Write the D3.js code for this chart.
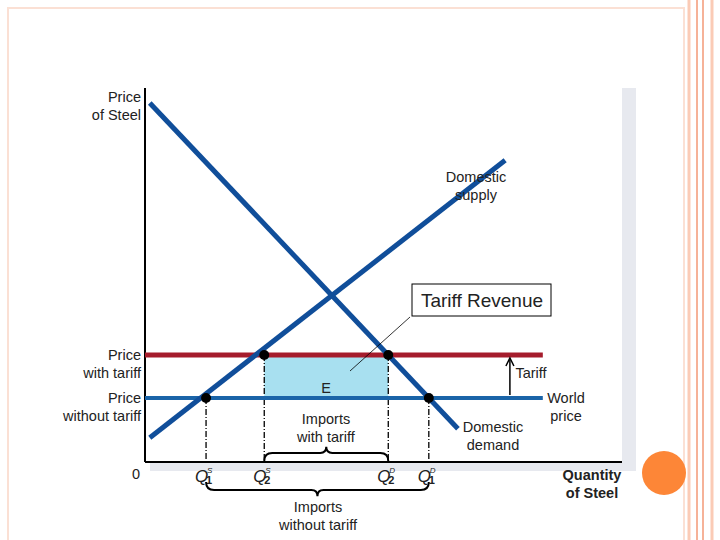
<!DOCTYPE html>
<html>
<head>
<style>
body { margin: 0; background: #fff; }
text { font-family: "Liberation Sans", Arial, sans-serif; font-size: 14.5px; fill: #222; }
</style>
</head>
<body>
<script src="https://cdnjs.cloudflare.com/ajax/libs/d3/7.8.5/d3.min.js"></script>
<script>
var w = 720, h = 540;

// curves in chart units (x: quantity 0..100, y: price 0..100)
var supply = [[1, 6.5], [75.5, 80.7]];
var demand = [[1, 96], [65.6, 8.9]];
var priceTariff = 28.6, priceWorld = 17.1, priceEnd = 83.4;
var points = [
    { q: 12.8, p: 17.1, name: "Q", sup: "S", sub: "1" },
    { q: 25,   p: 28.6, name: "Q", sup: "S", sub: "2" },
    { q: 51,   p: 28.6, name: "Q", sup: "D", sub: "2" },
    { q: 59.5, p: 17.1, name: "Q", sup: "D", sub: "1" }
];

var svg = d3.select("body").append("svg").attr("width", w).attr("height", h);

// slide decoration
svg.append("rect").attr("x", 8).attr("y", 8).attr("width", 676).attr("height", 540)
    .attr("fill", "none").attr("stroke", "#fbe0d4").attr("stroke-width", 2);
[[689, 3, "#fbcbb6"], [697, 2, "#f6b298"], [703, 2, "#f6b298"], [712, 3, "#fbcbb6"]].forEach(function(l) {
    svg.append("line").attr("x1", l[0]).attr("x2", l[0]).attr("y1", 0).attr("y2", h)
        .attr("stroke", l[2]).attr("stroke-width", l[1]);
});
svg.append("circle").attr("cx", 664).attr("cy", 473).attr("r", 22).attr("fill", "#fd8637");

var x = d3.scaleLinear().domain([0, 100]).range([145, 622]);
var y = d3.scaleLinear().domain([0, 100]).range([462, 88]);

// shadow panel
svg.append("rect").attr("x", 622).attr("y", 88).attr("width", 14).attr("height", 382).attr("fill", "#e7e9ef");
svg.append("rect").attr("x", 150).attr("y", 463).attr("width", 486).attr("height", 8).attr("fill", "#e7e9ef");

// shaded revenue
svg.append("rect").attr("x", x(points[1].q)).attr("y", y(priceTariff))
    .attr("width", x(points[2].q) - x(points[1].q)).attr("height", y(priceWorld) - y(priceTariff))
    .attr("fill", "#a8e0f0");

// axes
svg.append("line").attr("x1", x(0)).attr("x2", x(0)).attr("y1", y(100)).attr("y2", y(0))
    .attr("stroke", "#000").attr("stroke-width", 2);
svg.append("line").attr("x1", x(0)).attr("x2", x(100)).attr("y1", y(0)).attr("y2", y(0))
    .attr("stroke", "#000").attr("stroke-width", 2);

// drop lines
svg.selectAll(".drop").data(points).enter().append("line")
    .attr("x1", function(d) { return x(d.q); }).attr("x2", function(d) { return x(d.q); })
    .attr("y1", function(d) { return y(d.p); }).attr("y2", y(0))
    .attr("stroke", "#000").attr("stroke-width", 1.3).attr("stroke-dasharray", "6,2,1,2");

// price lines
svg.append("line").attr("x1", x(0)).attr("x2", x(priceEnd)).attr("y1", y(priceTariff)).attr("y2", y(priceTariff))
    .attr("stroke", "#a51c2c").attr("stroke-width", 5);
svg.append("line").attr("x1", x(0)).attr("x2", x(priceEnd)).attr("y1", y(priceWorld)).attr("y2", y(priceWorld))
    .attr("stroke", "#1a64a8").attr("stroke-width", 4);

var line = d3.line().x(function(d) { return x(d[0]); }).y(function(d) { return y(d[1]); });
[supply, demand].forEach(function(c) {
    svg.append("path").attr("d", line(c)).attr("fill", "none")
        .attr("stroke", "#104e9a").attr("stroke-width", 5);
});

svg.selectAll(".pt").data(points).enter().append("circle")
    .attr("cx", function(d) { return x(d.q); }).attr("cy", function(d) { return y(d.p); })
    .attr("r", 5).attr("fill", "#000");

// Q labels
points.forEach(function(d) {
    var lx = x(d.q) - 11;
    svg.append("text").attr("x", lx).attr("y", 482).style("font-size", "17px").style("font-style", "italic").text(d.name);
    svg.append("text").attr("x", lx + 12).attr("y", 473).style("font-size", "8px").style("font-style", "italic").text(d.sup);
    svg.append("text").attr("x", lx + 11).attr("y", 484).style("font-size", "11px").style("font-weight", "bold").text(d.sub);
});

// braces
function brace(x1, x2, yb, dir) {
    var m = (x1 + x2) / 2, d = 8 * dir;
    var p = "M" + x1 + "," + yb + " q0," + (-d) + " 8," + (-d) +
        " L" + (m - 6) + "," + (yb - d) + " q6,0 6," + (-d / 1.3) +
        " q0," + (d / 1.3) + " 6," + (d / 1.3) +
        " L" + (x2 - 8) + "," + (yb - d) + " q8,0 8," + d;
    svg.append("path").attr("d", p).attr("fill", "none").attr("stroke", "#000").attr("stroke-width", 2);
}
brace(x(points[1].q), x(points[2].q), 461, 1);
brace(x(points[0].q), x(points[3].q), 482, -1);

// tariff arrow
svg.append("line").attr("x1", x(76.5)).attr("x2", x(76.5)).attr("y1", y(priceWorld) - 3).attr("y2", y(priceTariff) + 5)
    .attr("stroke", "#000").attr("stroke-width", 1.5);
svg.append("path").attr("d", "M" + (x(76.5) - 4) + "," + (y(priceTariff) + 11) + " L" + x(76.5) + "," + (y(priceTariff) + 3) + " L" + (x(76.5) + 4) + "," + (y(priceTariff) + 11))
    .attr("fill", "none").attr("stroke", "#000").attr("stroke-width", 1.5);

// tariff revenue box
svg.append("rect").attr("x", 412).attr("y", 284).attr("width", 139).attr("height", 32)
    .attr("fill", "#fff").attr("stroke", "#000").attr("stroke-width", 1);
svg.append("text").attr("x", 482).attr("y", 307).attr("text-anchor", "middle").style("font-size", "19px").text("Tariff Revenue");
svg.append("line").attr("x1", 410).attr("y1", 317).attr("x2", 350).attr("y2", 371).attr("stroke", "#000").attr("stroke-width", 0.8);

// text labels
function label(txt, lx, ly, anchor, opts) {
    var t = svg.append("text").attr("x", lx).attr("y", ly).attr("text-anchor", anchor);
    if (opts) t.style("font-weight", opts);
    txt.forEach(function(s, i) { t.append("tspan").attr("x", lx).attr("dy", i ? 18 : 0).text(s); });
}
label(["Price", "of Steel"], 141, 102, "end");
label(["Domestic", "supply"], 476, 182, "middle");
label(["Price", "with tariff"], 141, 360, "end");
label(["Price", "without tariff"], 141, 403, "end");
label(["0"], 140, 479, "end");
label(["E"], 326, 393, "middle");
label(["Imports", "with tariff"], 326, 424, "middle");
label(["Domestic", "demand"], 493, 432, "middle");
label(["World", "price"], 566, 403, "middle");
label(["Tariff"], 531, 378, "middle");
label(["Imports", "without tariff"], 318, 512, "middle");
label(["Quantity", "of Steel"], 592, 480, "middle", "bold");
</script>
</body>
</html>
